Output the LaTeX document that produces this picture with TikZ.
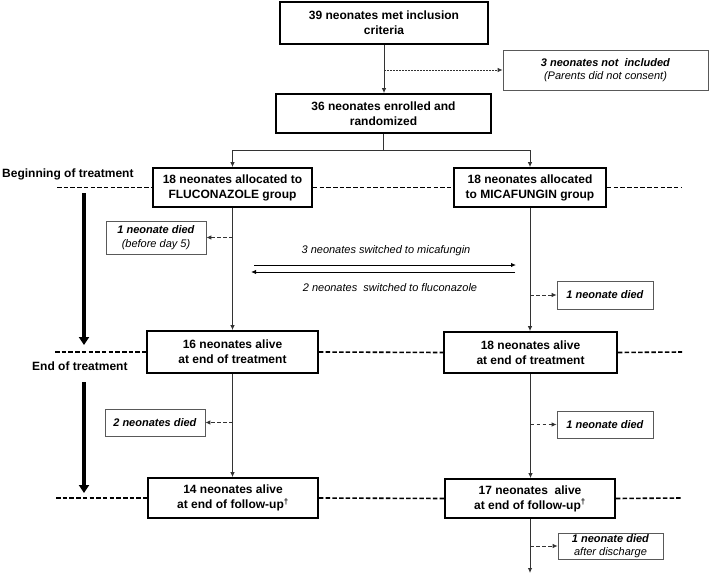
\documentclass[tikz,border=0pt]{standalone}
\usepackage{fontspec}
\setmainfont{Liberation Sans}
\usetikzlibrary{arrows.meta}
\begin{document}
\begin{tikzpicture}[x=1pt,y=-1pt,
  mainbox/.style={draw=black,line width=1.8pt,align=center,inner sep=1pt,font=\fontsize{12}{15}\selectfont\bfseries},
  sidebox/.style={draw=black!65,line width=0.7pt,align=center,inner sep=1pt,font=\fontsize{11}{13.5}\selectfont},
  conn/.style={draw=black!80,line width=0.9pt},
  arr/.style={conn,-{Latex[length=5pt,width=4.5pt]}},
  dasharr/.style={arr,dash pattern=on 3.5pt off 2.5pt},
  dotarr/.style={arr,dash pattern=on 1.5pt off 1.5pt},
  sep/.style={draw=black,line width=1.6pt,dash pattern=on 4.5pt off 2.2pt},
  bigarr/.style={draw=black,line width=4pt,-{Triangle[length=8pt,width=10pt]}},
  phase/.style={font=\fontsize{12}{14}\selectfont\bfseries,anchor=west,inner sep=0pt},
  swl/.style={font=\fontsize{11}{13}\selectfont\itshape,inner sep=0pt}]
\useasboundingbox (0,0) rectangle (709,575);

% main boxes
\node[mainbox,minimum width=208pt,minimum height=42pt] (b1) at (384,23) {39 neonates met inclusion\\criteria};
\node[mainbox,minimum width=215pt,minimum height=39pt] (b2) at (383.5,113.5) {36 neonates enrolled and\\randomized};
\node[sidebox,minimum width=205pt,minimum height=40pt] (ex) at (605.5,70) {\textbf{\textit{3 neonates not\ \ included}}\\\textit{(Parents did not consent)}};
\node[mainbox,minimum width=159pt,minimum height=39pt] (b3) at (232.5,187.5) {18 neonates allocated to\\FLUCONAZOLE group};
\node[mainbox,minimum width=152pt,minimum height=39pt] (b4) at (530,187.5) {18 neonates allocated\\to MICAFUNGIN group};
\node[mainbox,minimum width=171pt,minimum height=42pt] (b5) at (232.5,352) {16 neonates alive\\at end of treatment};
\node[mainbox,minimum width=173pt,minimum height=41pt] (b6) at (530.5,352.5) {18 neonates alive\\at end of treatment};
\node[mainbox,minimum width=170pt,minimum height=40pt] (b7) at (233,498) {14 neonates alive\\at end of follow-up\textsuperscript{\textdagger}};
\node[mainbox,minimum width=170pt,minimum height=39pt] (b8) at (530,498.5) {17 neonates\ \ alive\\at end of follow-up\textsuperscript{\textdagger}};

% side boxes
\node[sidebox,minimum width=100pt,minimum height=33pt] (d1) at (156,237.5) {\textbf{\textit{1 neonate died}}\\\textit{(before day 5)}};
\node[sidebox,minimum width=96pt,minimum height=28pt] (d2) at (605,295) {\textbf{\textit{1 neonate died}}};
\node[sidebox,minimum width=100pt,minimum height=27pt] (d3) at (155,422.5) {\textbf{\textit{2 neonates died}}};
\node[sidebox,minimum width=96pt,minimum height=27pt] (d4) at (605,424.5) {\textbf{\textit{1 neonate died}}};
\node[sidebox,minimum width=105pt,minimum height=26pt,font=\fontsize{11}{12.5}\selectfont] (d5) at (610.5,546) {\textbf{\textit{1 neonate died}}\\\textit{after discharge}};

% phase labels
\node[phase] (ph1) at (2,174) {Beginning of treatment};
\node[phase] (ph2) at (32,366) {End of treatment};

% flow connectors
\draw[arr] (b1.south) -- (b1.south |- b2.north);
\coordinate (exs) at (b1.south |- ex.west);
\draw[dotarr] (exs) -- (ex.west);
\coordinate (split) at (383.5,150);
\draw[conn] (b2.south) -- (split);
\draw[arr] (split) -| (b3.north);
\draw[arr] (split) -| (b4.north);
\draw[arr] (b3.south) -- (b3.south |- b5.north);
\draw[arr] (b4.south) -- (b4.south |- b6.north);
\draw[arr] (b5.south) -- (b5.south |- b7.north);
\draw[arr] (b6.south) -- (b6.south |- b8.north);
\coordinate (endp) at (530,573);
\draw[arr] (b8.south) -- (endp);

% death side arrows
\coordinate (s1) at (b3.south |- d1.east);
\draw[dasharr] (s1) -- (d1.east);
\coordinate (s2) at (b4.south |- d2.west);
\draw[dasharr] (s2) -- (d2.west);
\coordinate (s3) at (b5.south |- d3.east);
\draw[dasharr] (s3) -- (d3.east);
\coordinate (s4) at (b6.south |- d4.west);
\draw[dasharr] (s4) -- (d4.west);
\coordinate (s5) at (b8.south |- d5.west);
\draw[dasharr] (s5) -- (d5.west);

% switch arrows
\coordinate (u1) at (254,265);
\coordinate (u2) at (516,265);
\coordinate (l1) at (515,272);
\coordinate (l2) at (251,272);
\draw[arr,draw=black,line width=1pt] (u1) -- (u2);
\draw[arr,draw=black,line width=1pt] (l1) -- (l2);
\node[swl] (sw1) at (386,251) {3 neonates switched to micafungin};
\node[swl] (sw2) at (390,288) {2 neonates\ \ switched to fluconazole};

% phase separators
\coordinate (p1a) at (57,187.5);
\coordinate (p1b) at (682,187.5);
\draw[sep] (p1a) -- (b3.west);
\draw[sep] (b3.east) -- (b4.west);
\draw[sep] (b4.east) -- (p1b);
\coordinate (p2a) at (55,352);
\coordinate (p2b) at (682,352);
\draw[sep] (p2a) -- (b5.west);
\draw[sep] (b5.east) -- (b6.west);
\draw[sep] (b6.east) -- (p2b);
\coordinate (p3a) at (56,498);
\coordinate (p3b) at (681,498);
\draw[sep] (p3a) -- (b7.west);
\draw[sep] (b7.east) -- (b8.west);
\draw[sep] (b8.east) -- (p3b);

% time arrows
\coordinate (t1a) at (84,193);
\coordinate (t1b) at (84,345);
\coordinate (t2a) at (84,382);
\coordinate (t2b) at (84,493);
\draw[bigarr] (t1a) -- (t1b);
\draw[bigarr] (t2a) -- (t2b);
\end{tikzpicture}
\end{document}
